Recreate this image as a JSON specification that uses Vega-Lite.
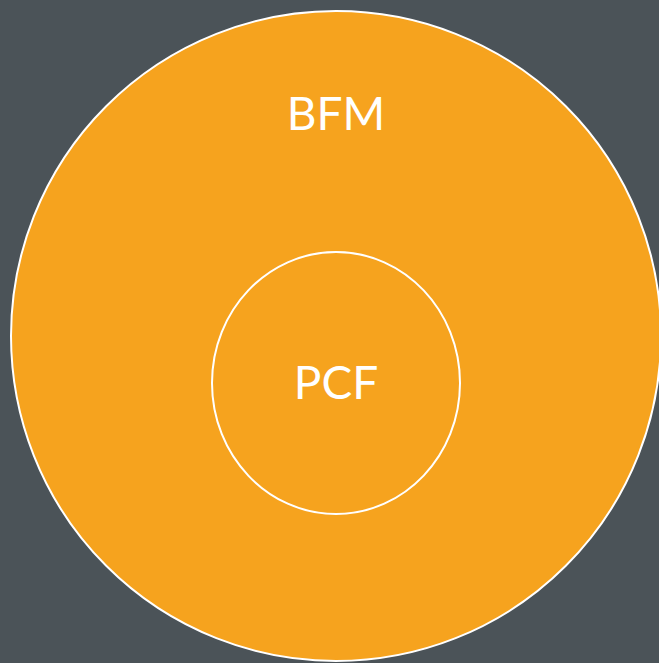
{
  "$schema": "https://vega.github.io/schema/vega-lite/v6.json",
  "autosize": {"type": "none"},
  "width": 659,
  "height": 663,
  "padding": 0,
  "background": "#4b5358",
  "config": {"view": {"stroke": null}},
  "datasets": {
    "circles": [
      {"name": "BFM", "cx": 336, "cy": 336, "d": 650, "ty": 130},
      {"name": "PCF", "cx": 336, "cy": 383, "d": 262, "ty": 399}
    ]
  },
  "data": {"name": "circles"},
  "encoding": {
    "x": {"field": "cx", "type": "quantitative", "scale": {"domain": [0, 659], "nice": false, "zero": false}, "axis": null},
    "y": {"field": "cy", "type": "quantitative", "scale": {"domain": [0, 663], "nice": false, "zero": false, "reverse": true}, "axis": null}
  },
  "layer": [
    {
      "transform": [{"filter": "datum.name === 'BFM'"}],
      "mark": {"type": "point", "shape": "circle", "filled": true, "fill": "#f6a31e", "stroke": "white", "strokeWidth": 2, "opacity": 1, "size": 422500}
    },
    {
      "transform": [{"filter": "datum.name === 'PCF'"}],
      "mark": {"type": "point", "shape": "M -0.9466 0 A 0.9466 1 0 1 0 0.9466 0 A 0.9466 1 0 1 0 -0.9466 0 Z", "filled": false, "stroke": "white", "strokeWidth": 2, "opacity": 1, "size": 68644}
    },
    {
      "mark": {"type": "text", "color": "white", "font": "Lato", "fontSize": 46, "align": "center", "baseline": "alphabetic"},
      "encoding": {
        "y": {"field": "ty", "type": "quantitative"},
        "text": {"field": "name"}
      }
    }
  ]
}
